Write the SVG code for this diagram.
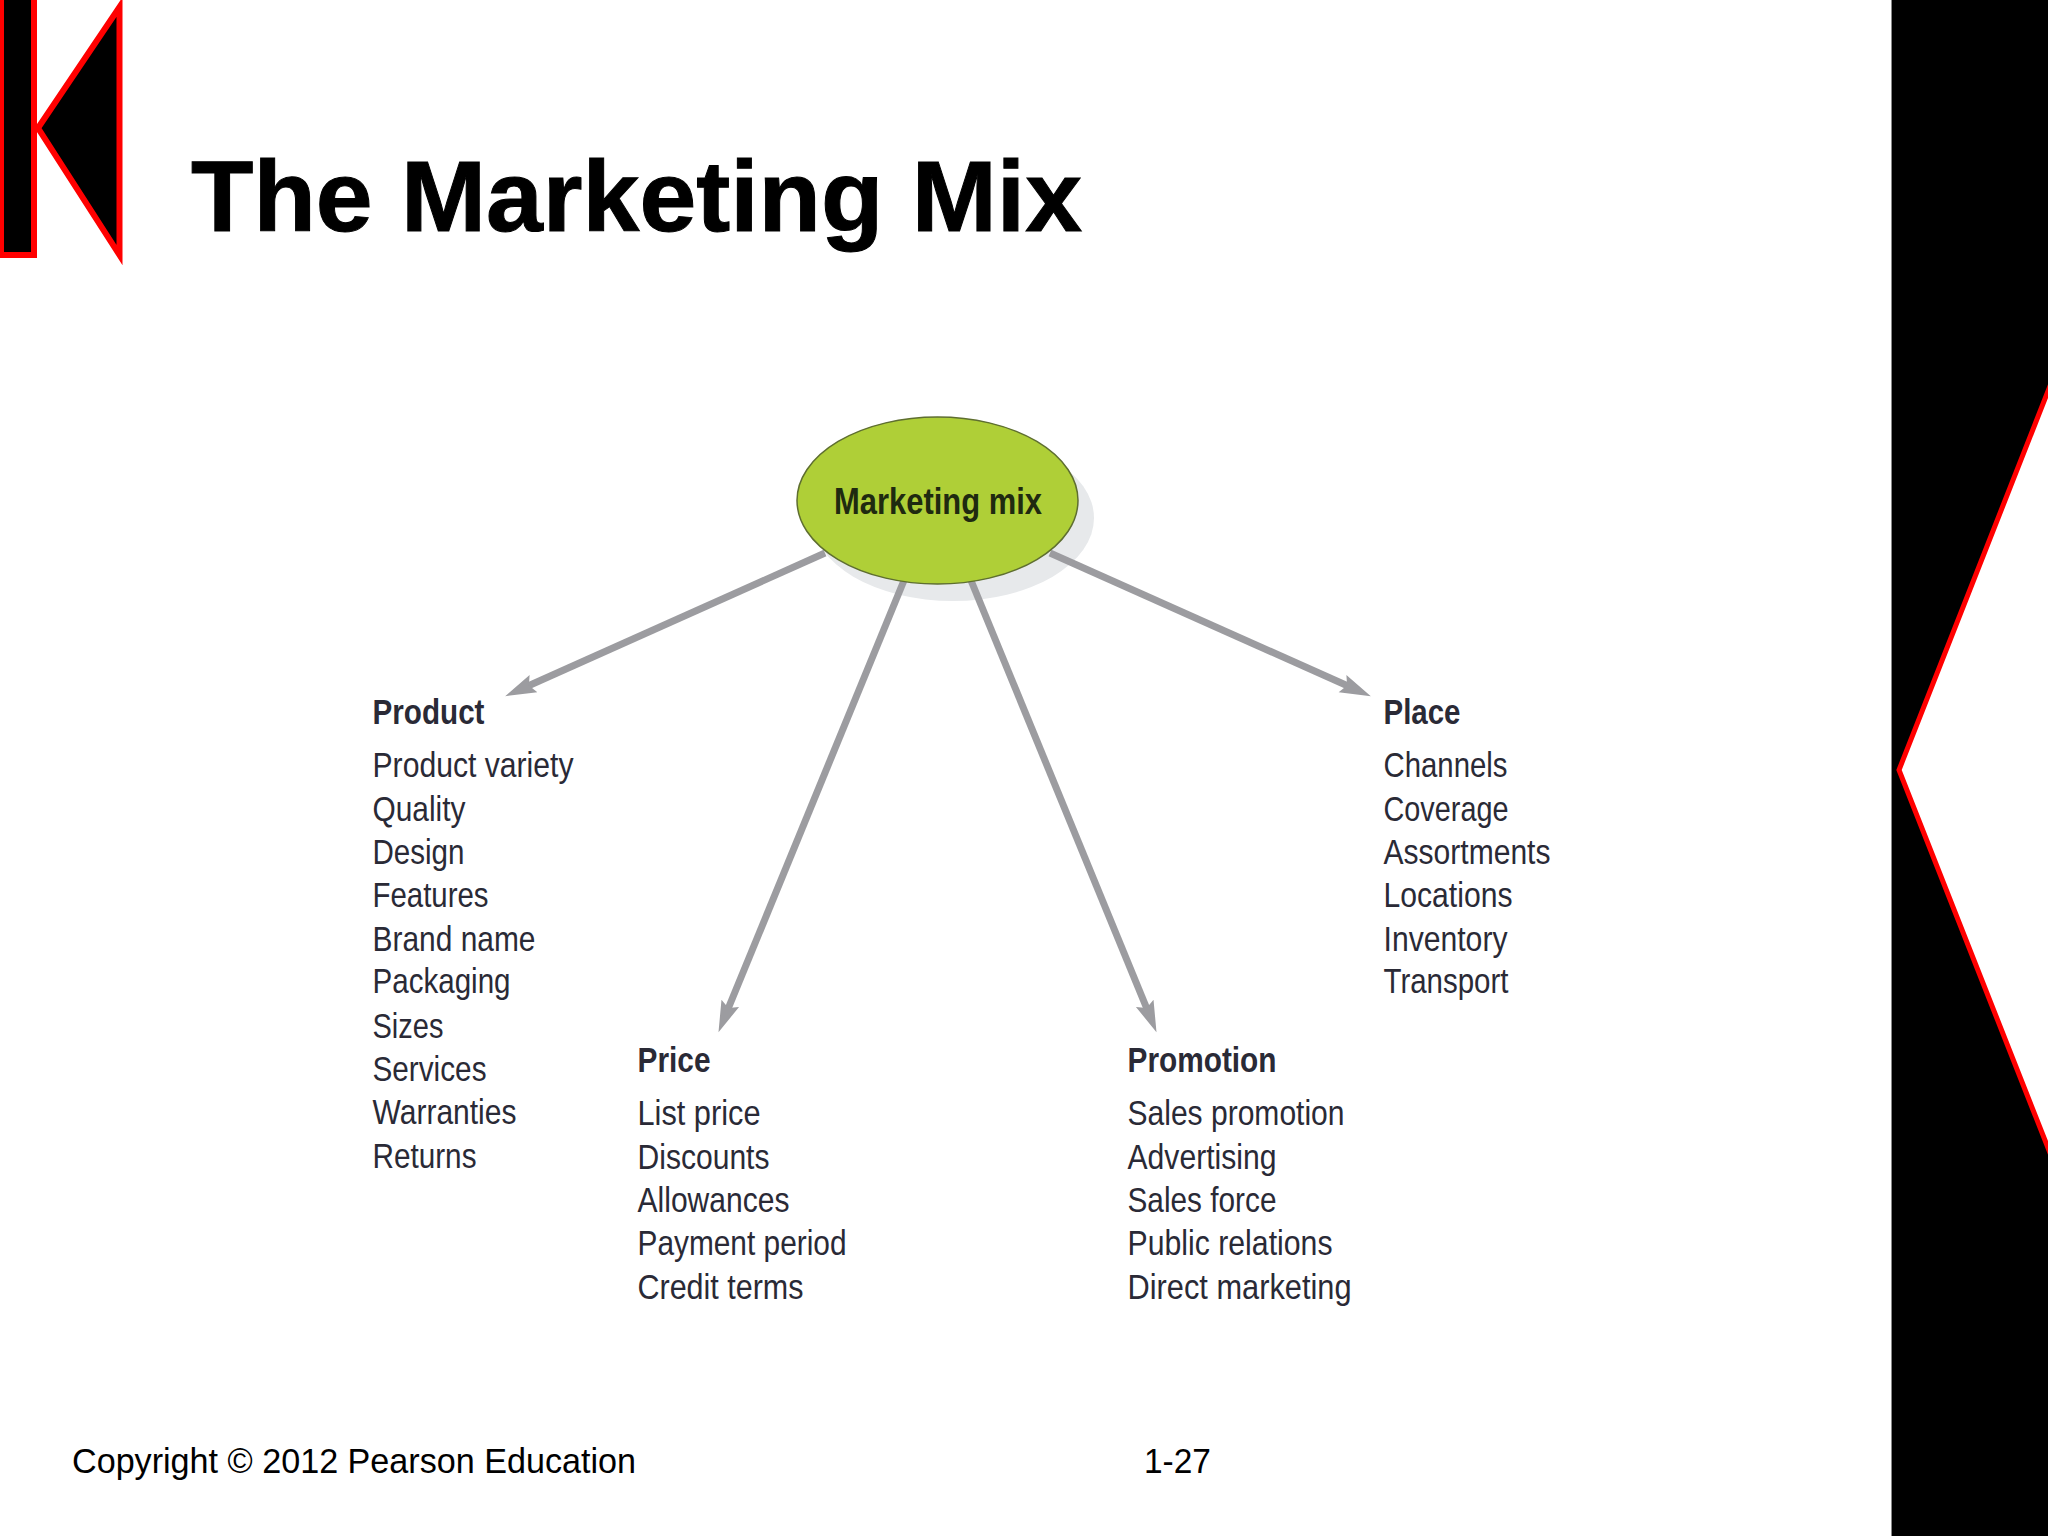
<svg xmlns="http://www.w3.org/2000/svg" width="2048" height="1536" viewBox="0 0 2048 1536">
<defs>
<marker id="head" markerUnits="userSpaceOnUse" markerWidth="40" markerHeight="32" refX="6" refY="16" orient="auto" viewBox="0 0 40 32"><path d="M0,6.500 L31,16 L0,25.500 L5,16 Z" fill="#9c9ca0"/></marker>
</defs>
<style>
text{font-family:"Liberation Sans Narrow","Liberation Sans",Arial,sans-serif;fill:#2a2a36}
.h{font-weight:700;font-size:35px}
.b{font-size:35px}
.main{font-family:"Liberation Sans",Arial,sans-serif;fill:#000}
.ln{stroke:#9c9ca0;stroke-width:7;fill:none;marker-end:url(#head)}
.btn{fill:#000;stroke:#f00;stroke-width:6}
</style>
<rect width="2048" height="1536" fill="#fff"/>
<g id="sidebar">
<rect x="1892" y="0" width="156" height="1536" fill="#000"/>
<rect x="1891" y="0" width="1" height="1536" fill="#888"/>
<polygon points="2052,381 1899,770 2052,1158" fill="#fff" stroke="#f00" stroke-width="5"/>
</g>
<g id="back-button">
<rect class="btn" x="1" y="-3" width="33" height="258"/>
<polygon class="btn" points="38,128 119.500,7 119.500,255"/>
</g>
<text id="title" class="main" x="191" y="231" font-size="100" font-weight="700" stroke="#000" stroke-width="1" textLength="891" lengthAdjust="spacingAndGlyphs">The Marketing Mix</text>
<ellipse id="marketing-mix-shadow" cx="953" cy="518" rx="141" ry="83" fill="#e7e9eb"/>
<g id="connectors">
<line class="ln" x1="825" y1="553" x2="528" y2="686"/>
<line class="ln" x1="1050" y1="553" x2="1348" y2="686"/>
<line class="ln" x1="905" y1="578" x2="728" y2="1009"/>
<line class="ln" x1="970" y1="578" x2="1147" y2="1009"/>
</g>
<g id="marketing-mix">
<ellipse cx="937.500" cy="500.500" rx="140.500" ry="83.500" fill="#afcf37" stroke="#5e6e30" stroke-width="1.500"/>
<text x="834" y="514" font-size="37" font-weight="700" style="fill:#1f2a10" textLength="208" lengthAdjust="spacingAndGlyphs">Marketing mix</text>
</g>
<g id="product">
<text class="h" x="372.500" y="724" textLength="112" lengthAdjust="spacingAndGlyphs">Product</text>
<text class="b" x="372.500" y="777" textLength="201" lengthAdjust="spacingAndGlyphs">Product variety</text>
<text class="b" x="372.500" y="821" textLength="93" lengthAdjust="spacingAndGlyphs">Quality</text>
<text class="b" x="372.500" y="864" textLength="92" lengthAdjust="spacingAndGlyphs">Design</text>
<text class="b" x="372.500" y="907" textLength="116" lengthAdjust="spacingAndGlyphs">Features</text>
<text class="b" x="372.500" y="951" textLength="163" lengthAdjust="spacingAndGlyphs">Brand name</text>
<text class="b" x="372.500" y="993" textLength="138" lengthAdjust="spacingAndGlyphs">Packaging</text>
<text class="b" x="372.500" y="1038" textLength="71" lengthAdjust="spacingAndGlyphs">Sizes</text>
<text class="b" x="372.500" y="1081" textLength="114" lengthAdjust="spacingAndGlyphs">Services</text>
<text class="b" x="372.500" y="1124" textLength="144" lengthAdjust="spacingAndGlyphs">Warranties</text>
<text class="b" x="372.500" y="1168" textLength="104" lengthAdjust="spacingAndGlyphs">Returns</text>
</g>
<g id="price">
<text class="h" x="637.500" y="1072" textLength="73" lengthAdjust="spacingAndGlyphs">Price</text>
<text class="b" x="637.500" y="1125" textLength="123" lengthAdjust="spacingAndGlyphs">List price</text>
<text class="b" x="637.500" y="1169" textLength="132" lengthAdjust="spacingAndGlyphs">Discounts</text>
<text class="b" x="637.500" y="1212" textLength="152" lengthAdjust="spacingAndGlyphs">Allowances</text>
<text class="b" x="637.500" y="1255" textLength="209" lengthAdjust="spacingAndGlyphs">Payment period</text>
<text class="b" x="637.500" y="1299" textLength="166" lengthAdjust="spacingAndGlyphs">Credit terms</text>
</g>
<g id="promotion">
<text class="h" x="1127.500" y="1072" textLength="149" lengthAdjust="spacingAndGlyphs">Promotion</text>
<text class="b" x="1127.500" y="1125" textLength="217" lengthAdjust="spacingAndGlyphs">Sales promotion</text>
<text class="b" x="1127.500" y="1169" textLength="149" lengthAdjust="spacingAndGlyphs">Advertising</text>
<text class="b" x="1127.500" y="1212" textLength="149" lengthAdjust="spacingAndGlyphs">Sales force</text>
<text class="b" x="1127.500" y="1255" textLength="205" lengthAdjust="spacingAndGlyphs">Public relations</text>
<text class="b" x="1127.500" y="1299" textLength="224" lengthAdjust="spacingAndGlyphs">Direct marketing</text>
</g>
<g id="place">
<text class="h" x="1383.500" y="724" textLength="77" lengthAdjust="spacingAndGlyphs">Place</text>
<text class="b" x="1383.500" y="777" textLength="124" lengthAdjust="spacingAndGlyphs">Channels</text>
<text class="b" x="1383.500" y="821" textLength="125" lengthAdjust="spacingAndGlyphs">Coverage</text>
<text class="b" x="1383.500" y="864" textLength="167" lengthAdjust="spacingAndGlyphs">Assortments</text>
<text class="b" x="1383.500" y="907" textLength="129" lengthAdjust="spacingAndGlyphs">Locations</text>
<text class="b" x="1383.500" y="951" textLength="124" lengthAdjust="spacingAndGlyphs">Inventory</text>
<text class="b" x="1383.500" y="993" textLength="125" lengthAdjust="spacingAndGlyphs">Transport</text>
</g>
<g id="footer">
<text class="main" x="72" y="1473" font-size="35" textLength="564" lengthAdjust="spacingAndGlyphs">Copyright © 2012 Pearson Education</text>
<text class="main" x="1144" y="1473" font-size="35" textLength="67" lengthAdjust="spacingAndGlyphs">1-27</text>
</g>
</svg>
